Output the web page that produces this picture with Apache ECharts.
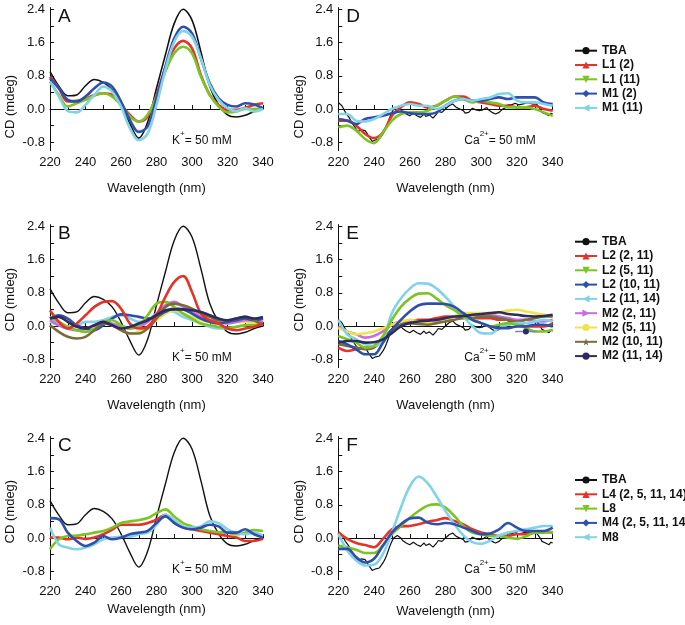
<!DOCTYPE html>
<html>
<head>
<meta charset="utf-8">
<script src="https://cdn.jsdelivr.net/npm/echarts@6/dist/echarts.min.js"></script>
<style>html,body{margin:0;padding:0;background:#fff}#main{width:685px;height:625px}</style>
</head>
<body>
<div id="main"></div>
<script>
// wavelengths (nm)
var wl5 = [220,225,230,235,240,245,250,255,260,265,270,275,280,285,290,295,300,305,310,315,320,325,330,335,340];
var wl1 = [220,221,222,223,224,225,226,227,228,229,230,231,232,233,234,235,236,237,238,239,240,
  241,242,243,244,245,246,247,248,249,250,251,252,253,254,255,256,257,258,259,260,
  261,262,263,264,265,266,267,268,269,270,271,272,273,274,275,276,277,278,279,280,
  281,282,283,284,285,286,287,288,289,290,291,292,293,294,295,296,297,298,299,300,
  301,302,303,304,305,306,307,308,309,310,311,312,313,314,315,316,317,318,319,320,
  321,322,323,324,325,326,327,328,329,330,331,332,333,334,335,336,337,338,339,340];

// TBA in K+ (panels A, B, C)
var tbaK = [0.90,0.55,0.32,0.34,0.56,0.71,0.64,0.46,0.10,-0.35,-0.70,-0.32,0.50,1.30,2.06,2.40,2.14,1.38,0.54,0.10,-0.14,-0.19,-0.15,-0.06,0.00];
// TBA in Ca2+ (panels D, E, F), 1 nm steps
var tbaCa = [0.16,0.12,0.08,0.0,-0.08,-0.14,-0.2,-0.28,-0.36,-0.42,-0.46,-0.54,-0.58,-0.5,-0.46,-0.52,-0.58,-0.66,-0.72,-0.78,-0.8,
  -0.74,-0.78,-0.72,-0.68,-0.6,-0.52,-0.42,-0.3,-0.18,-0.08,0.0,0.04,0.06,0.08,0.0,-0.06,-0.1,-0.12,-0.08,-0.16,
  -0.12,-0.1,-0.14,-0.16,-0.12,-0.2,-0.16,-0.12,-0.18,-0.2,-0.14,-0.16,-0.22,-0.22,-0.12,-0.06,-0.1,-0.08,-0.04,0.0,
  0.04,0.08,0.06,0.12,0.08,0.04,0.02,0.0,-0.04,-0.04,-0.1,-0.12,-0.08,-0.04,0.02,0.04,-0.02,0.0,-0.04,-0.08,
  -0.02,0.0,0.04,-0.02,-0.06,-0.08,-0.1,-0.12,-0.1,-0.08,-0.04,0.0,0.02,0.04,0.1,0.12,0.1,0.12,0.14,0.16,
  0.1,0.08,0.12,0.1,0.14,0.16,0.14,0.16,0.12,0.14,0.12,0.08,0.0,-0.08,-0.1,-0.12,-0.14,-0.16,-0.1,-0.12];

// A (K+)
var aL1_2  = [0.78,0.50,0.18,0.20,0.24,0.34,0.38,0.34,0.10,-0.14,-0.30,-0.18,0.34,0.98,1.46,1.64,1.46,0.82,0.34,0.10,-0.02,-0.02,0.03,0.10,0.14];
var aL1_11 = [0.66,0.34,0.06,0.14,0.22,0.32,0.38,0.30,0.10,-0.18,-0.30,-0.14,0.30,0.90,1.34,1.50,1.34,0.78,0.34,0.06,-0.08,-0.06,0.00,0.00,0.02];
var aM1_2  = [0.74,0.50,0.22,0.18,0.30,0.50,0.64,0.54,0.18,-0.26,-0.55,-0.42,0.26,1.02,1.70,1.98,1.82,1.22,0.62,0.26,0.10,0.06,0.14,0.11,0.02];
var aM1_11 = [0.66,0.30,-0.05,-0.08,0.10,0.34,0.54,0.42,0.06,-0.46,-0.75,-0.59,0.10,0.94,1.62,1.88,1.74,1.22,0.58,0.22,0.02,-0.05,0.02,-0.06,0.00];

// B (K+)
var bL2_2_11  = [0.38,0.10,-0.06,0.06,0.26,0.46,0.58,0.60,0.42,0.06,-0.06,-0.02,0.26,0.70,1.06,1.20,0.82,0.30,0.14,0.06,-0.06,-0.10,-0.06,-0.02,0.06];
var bL2_5_11  = [0.22,0.10,-0.02,-0.10,-0.14,-0.06,0.10,0.14,0.02,-0.06,0.02,0.26,0.54,0.58,0.46,0.30,0.18,0.06,0.02,-0.02,-0.05,-0.02,0.02,0.02,0.06];
var bL2_10_11 = [0.18,0.26,0.18,0.02,-0.06,-0.10,0.02,0.18,0.28,0.26,0.22,0.18,0.22,0.34,0.42,0.40,0.30,0.18,0.10,0.06,0.10,0.14,0.18,0.14,0.18];
var bL2_11_14 = [0.10,0.02,-0.02,0.02,0.10,0.10,0.14,0.22,0.26,0.18,0.10,0.14,0.30,0.38,0.34,0.22,0.14,0.06,-0.02,-0.06,-0.05,-0.02,0.02,0.06,0.06];
var bM2_2_11  = [0.14,0.02,-0.06,-0.10,-0.06,0.02,0.10,0.06,-0.02,-0.06,-0.02,0.10,0.30,0.50,0.58,0.46,0.34,0.22,0.14,0.10,0.06,0.10,0.14,0.14,0.10];
var bM2_5_11  = [0.18,0.10,-0.02,-0.10,-0.14,-0.10,0.06,0.02,-0.10,-0.18,-0.14,-0.02,0.14,0.30,0.38,0.30,0.22,0.14,0.10,0.06,0.06,0.10,0.10,0.06,0.10];
var bM2_10_11 = [0.02,-0.14,-0.26,-0.30,-0.26,-0.10,0.06,0.02,-0.10,-0.18,-0.18,-0.06,0.18,0.46,0.54,0.50,0.42,0.30,0.22,0.14,0.14,0.18,0.22,0.14,0.02];
var bM2_11_14 = [0.18,0.22,0.10,-0.02,-0.06,0.02,0.10,0.02,-0.06,-0.02,0.06,0.14,0.26,0.38,0.40,0.40,0.38,0.34,0.26,0.18,0.14,0.18,0.22,0.18,0.22];

// C (K+)
var cL4 = [0.01,0.01,-0.03,0.01,-0.02,0.01,0.09,0.20,0.32,0.32,0.32,0.36,0.44,0.56,0.40,0.25,0.21,0.17,0.13,0.09,0.05,0.01,-0.07,-0.07,-0.02];
var cL8 = [-0.27,-0.03,0.05,0.06,0.09,0.13,0.17,0.25,0.36,0.40,0.43,0.48,0.60,0.69,0.52,0.36,0.28,0.21,0.17,0.14,0.13,0.09,0.13,0.19,0.17];
var cM4 = [0.48,0.45,0.13,-0.07,-0.19,-0.11,0.05,-0.03,0.01,0.09,0.13,0.17,0.36,0.52,0.36,0.25,0.21,0.25,0.32,0.28,0.13,0.13,0.21,0.09,0.01];
var cM8 = [0.25,-0.15,-0.23,-0.27,-0.23,-0.15,-0.03,0.01,0.03,0.03,0.09,0.13,0.32,0.56,0.44,0.28,0.25,0.28,0.40,0.36,0.21,0.13,0.09,0.13,0.05];

// D (Ca2+)
var dL1_2  = [-0.28,-0.28,-0.40,-0.60,-0.70,-0.56,-0.16,0.04,0.16,0.12,0.04,0.08,0.20,0.30,0.30,0.20,0.16,0.12,0.08,0.08,0.04,0.04,0.08,0.00,-0.04];
var dL1_11 = [-0.44,-0.40,-0.52,-0.72,-0.82,-0.56,-0.28,-0.12,-0.08,-0.08,-0.04,0.08,0.20,0.30,0.24,0.16,0.20,0.16,0.12,0.04,0.04,0.04,0.00,-0.08,-0.16];
var dM1_2  = [-0.24,-0.28,-0.36,-0.24,-0.20,-0.16,-0.10,-0.06,-0.10,-0.12,-0.12,-0.08,0.08,0.20,0.24,0.20,0.20,0.24,0.28,0.24,0.28,0.28,0.28,0.16,0.12];
var dM1_11 = [-0.12,-0.12,-0.28,-0.30,-0.24,-0.12,0.00,0.08,0.12,0.08,0.08,0.00,0.08,0.20,0.24,0.20,0.24,0.28,0.36,0.38,0.20,0.16,0.16,0.12,0.08];

// E (Ca2+)
var eL2_2_11  = [-0.52,-0.60,-0.56,-0.52,-0.48,-0.32,-0.09,0.03,0.11,0.15,0.15,0.19,0.23,0.23,0.23,0.19,0.19,0.19,0.15,0.15,0.07,-0.01,-0.01,-0.01,0.07];
var eL2_5_11  = [-0.24,-0.32,-0.40,-0.52,-0.48,-0.24,0.15,0.46,0.66,0.78,0.79,0.66,0.50,0.38,0.23,0.15,0.07,-0.01,0.03,0.07,0.03,-0.05,-0.13,-0.13,-0.09];
var eL2_10_11 = [-0.36,-0.44,-0.56,-0.68,-0.68,-0.40,-0.09,0.15,0.35,0.50,0.54,0.54,0.53,0.46,0.31,0.15,0.07,-0.01,-0.05,-0.05,-0.01,-0.01,0.03,0.03,-0.01];
var eL2_11_14 = [0.15,-0.20,-0.32,-0.44,-0.48,-0.32,0.31,0.66,0.90,1.03,1.02,0.90,0.70,0.46,0.23,0.00,-0.17,-0.18,-0.05,0.03,0.07,0.07,0.11,0.15,0.11];
var eM2_2_11  = [-0.01,-0.13,-0.20,-0.28,-0.24,-0.13,0.03,0.11,0.11,0.07,0.07,0.11,0.15,0.23,0.27,0.27,0.27,0.27,0.23,0.19,0.15,0.15,0.11,0.11,0.15];
var eM2_5_11  = [-0.05,-0.13,-0.20,-0.17,-0.13,-0.05,0.03,0.11,0.15,0.11,0.07,0.07,0.15,0.23,0.31,0.31,0.31,0.31,0.33,0.37,0.39,0.35,0.31,0.27,0.23];
var eM2_10_11 = [-0.44,-0.48,-0.52,-0.56,-0.52,-0.32,-0.09,0.03,0.07,0.05,0.03,0.07,0.11,0.15,0.19,0.19,0.23,0.23,0.19,0.15,0.11,0.15,0.19,0.23,0.23];
var eM2_11_14 = [-0.40,-0.36,-0.36,-0.40,-0.39,-0.32,-0.17,-0.01,0.07,0.11,0.13,0.15,0.19,0.23,0.24,0.27,0.29,0.31,0.33,0.29,0.27,0.24,0.23,0.24,0.27];
var eMarkX = [319,325,331];
var eMarkY = [-0.13,-0.13,-0.13];

// F (Ca2+)
var fL4 = [0.13,-0.02,-0.12,-0.17,-0.22,-0.02,0.21,0.28,0.29,0.33,0.39,0.43,0.48,0.41,0.33,0.21,0.13,0.09,0.05,0.05,0.09,0.09,0.13,0.15,0.13];
var fL8 = [-0.18,-0.22,-0.28,-0.36,-0.36,-0.18,0.09,0.29,0.49,0.65,0.78,0.81,0.73,0.53,0.29,0.13,0.09,0.05,0.05,0.01,-0.02,0.04,0.13,0.13,0.15];
var fM4 = [-0.26,-0.26,-0.46,-0.59,-0.50,-0.18,0.13,0.33,0.47,0.49,0.37,0.33,0.36,0.33,0.25,0.17,0.09,0.11,0.21,0.36,0.25,0.17,0.17,0.17,0.25];
var fM8 = [0.10,-0.30,-0.54,-0.66,-0.64,-0.38,0.13,0.73,1.24,1.48,1.32,1.00,0.65,0.33,0.06,-0.10,-0.14,-0.06,0.06,0.13,0.17,0.21,0.25,0.29,0.29];

// ticks
var xTicks = [220,230,240,250,260,270,280,290,300,310,320,330,340];
var xLabels = [220,240,260,280,300,320,340];
var yTicks = [-0.8,-0.4,0,0.4,0.8,1.2,1.6,2.0,2.4];
var yLabels = [-0.8,0,0.8,1.6,2.4];

var FONT = 'Liberation Sans, Arial, sans-serif';
var INK = '#111111';
var C = {
  black: '#111111', red: '#e5332a', green: '#7cc423', blue: '#2f4fae', cyan: '#82d3e6',
  magenta: '#c46ee0', yellow: '#f0e44a', olive: '#7a6b3e', navy: '#2c2c5e'
};
var STAR = 'path://M0,-10L2.4,-3.1L9.5,-3.1L3.8,1.2L5.9,8.1L0,4L-5.9,8.1L-3.8,1.2L-9.5,-3.1L-2.4,-3.1Z';

var panels = [
  {left: 50, top: 7.6, width: 213, letter: 'A', ion: 'K', nameGap: 31},
  {left: 50, top: 224.6, width: 213, letter: 'B', ion: 'K', nameGap: 31},
  {left: 50, top: 436.6, width: 213, letter: 'C', ion: 'K', nameGap: 23},
  {left: 338.3, top: 7.6, width: 214.4, letter: 'D', ion: 'Ca', nameGap: 31},
  {left: 338.3, top: 224.6, width: 214.4, letter: 'E', ion: 'Ca', nameGap: 31},
  {left: 338.3, top: 436.6, width: 214.4, letter: 'F', ion: 'Ca', nameGap: 25}
];
var GH = 143;

function xy(xs, ys) {
  return xs.map(function (x, i) { return [x, ys[i]]; });
}

var series = [];
function add(p, name, xs, ys, color, symbol, rot, width) {
  series.push({
    name: name,
    type: 'line',
    xAxisIndex: p,
    yAxisIndex: p,
    data: xy(xs, ys),
    showSymbol: false,
    symbol: symbol,
    symbolRotate: rot || 0,
    smooth: xs === wl5 ? 0.35 : false,
    lineStyle: {color: color, width: width || 2.6},
    itemStyle: {color: color},
    emphasis: {disabled: true},
    animation: false
  });
}

// A
add(0, 'TBA', wl5, tbaK, C.black, 'circle', 0, 1.6);
add(0, 'L1 (2)', wl5, aL1_2, C.red, 'triangle', 0);
add(0, 'L1 (11)', wl5, aL1_11, C.green, 'triangle', 180);
add(0, 'M1 (2)', wl5, aM1_2, C.blue, 'diamond', 0);
add(0, 'M1 (11)', wl5, aM1_11, C.cyan, 'triangle', 90);
// B
add(1, 'TBA', wl5, tbaK, C.black, 'circle', 0, 1.4);
add(1, 'L2 (11, 14)', wl5, bL2_11_14, C.cyan, 'triangle', 90);
add(1, 'M2 (5, 11)', wl5, bM2_5_11, C.yellow, 'circle', 0);
add(1, 'M2 (2, 11)', wl5, bM2_2_11, C.magenta, 'triangle', -90);
add(1, 'L2 (10, 11)', wl5, bL2_10_11, C.blue, 'diamond', 0);
add(1, 'L2 (5, 11)', wl5, bL2_5_11, C.green, 'triangle', 180);
add(1, 'M2 (10, 11)', wl5, bM2_10_11, C.olive, STAR, 0);
add(1, 'L2 (2, 11)', wl5, bL2_2_11, C.red, 'triangle', 0);
add(1, 'M2 (11, 14)', wl5, bM2_11_14, C.navy, 'circle', 0);
// C
add(2, 'TBA', wl5, tbaK, C.black, 'circle', 0, 1.4);
add(2, 'L4 (2, 5, 11, 14)', wl5, cL4, C.red, 'triangle', 0);
add(2, 'L8', wl5, cL8, C.green, 'triangle', 180);
add(2, 'M8', wl5, cM8, C.cyan, 'triangle', 90);
add(2, 'M4 (2, 5, 11, 14)', wl5, cM4, C.blue, 'diamond', 0);
// D
add(3, 'TBA', wl1, tbaCa, C.black, 'circle', 0, 1.2);
add(3, 'L1 (2)', wl5, dL1_2, C.red, 'triangle', 0);
add(3, 'L1 (11)', wl5, dL1_11, C.green, 'triangle', 180);
add(3, 'M1 (2)', wl5, dM1_2, C.blue, 'diamond', 0);
add(3, 'M1 (11)', wl5, dM1_11, C.cyan, 'triangle', 90);
// E
add(4, 'TBA', wl1, tbaCa, C.black, 'circle', 0, 1.2);
add(4, 'L2 (2, 11)', wl5, eL2_2_11, C.red, 'triangle', 0);
add(4, 'M2 (2, 11)', wl5, eM2_2_11, C.magenta, 'triangle', -90);
add(4, 'M2 (5, 11)', wl5, eM2_5_11, C.yellow, 'circle', 0);
add(4, 'M2 (10, 11)', wl5, eM2_10_11, C.olive, STAR, 0);
add(4, 'L2 (11, 14)', wl5, eL2_11_14, C.cyan, 'triangle', 90);
add(4, 'L2 (5, 11)', wl5, eL2_5_11, C.green, 'triangle', 180);
add(4, 'L2 (10, 11)', wl5, eL2_10_11, C.blue, 'diamond', 0);
add(4, 'M2 (11, 14)', wl5, eM2_11_14, C.navy, 'circle', 0);
series.push({
  name: 'stray', type: 'line', xAxisIndex: 4, yAxisIndex: 4,
  data: [
    {value: [eMarkX[0], eMarkY[0]], symbol: 'none'},
    {value: [eMarkX[1], eMarkY[1]], symbol: 'circle', symbolSize: 6},
    {value: [eMarkX[2], eMarkY[2]], symbol: 'none'}
  ],
  showSymbol: true, lineStyle: {color: '#7c86a8', width: 1.5}, itemStyle: {color: C.navy},
  emphasis: {disabled: true}, animation: false
});
// F
add(5, 'TBA', wl1, tbaCa, C.black, 'circle', 0, 1.2);
add(5, 'L4 (2, 5, 11, 14)', wl5, fL4, C.red, 'triangle', 0);
add(5, 'L8', wl5, fL8, C.green, 'triangle', 180);
add(5, 'M8', wl5, fM8, C.cyan, 'triangle', 90);
add(5, 'M4 (2, 5, 11, 14)', wl5, fM4, C.blue, 'diamond', 0);

var grids = [], xAxes = [], yAxes = [], graphics = [];
panels.forEach(function (pn, p) {
  grids.push({left: pn.left, top: pn.top, width: pn.width, height: GH});
  xAxes.push({
    gridIndex: p, type: 'value', min: 220, max: 340,
    name: 'Wavelength (nm)', nameLocation: 'middle', nameGap: pn.nameGap,
    nameTextStyle: {fontSize: 13, color: INK, fontFamily: FONT},
    axisLine: {lineStyle: {color: INK, width: 1}},
    axisTick: {inside: true, length: 4, customValues: xTicks, lineStyle: {color: INK}},
    axisLabel: {customValues: xLabels, fontSize: 13, color: INK, margin: 5, fontFamily: FONT},
    splitLine: {show: false}
  });
  yAxes.push({
    gridIndex: p, type: 'value', min: -1.0, max: 2.44,
    axisLine: {show: true, lineStyle: {color: INK, width: 1}},
    axisTick: {show: true, inside: true, length: 4, customValues: yTicks, lineStyle: {color: INK}},
    axisLabel: {customValues: yLabels, fontSize: 13, color: INK, margin: 5, fontFamily: FONT,
      formatter: function (v) { return Number(v).toFixed(1); }},
    splitLine: {show: false}
  });
  graphics.push({
    type: 'text', x: pn.left + 8, y: pn.top + 9,
    style: {text: pn.letter, fontSize: 19, fontFamily: FONT, fill: INK, textVerticalAlign: 'middle'}
  });
  var isK = pn.ion === 'K';
  graphics.push({
    type: 'text', x: isK ? pn.left + 122 : pn.left + 126, y: pn.top + 131,
    style: {
      text: isK ? '{a|K}{s|+}{a|= 50 mM}' : '{a|Ca}{s|2+}{a|= 50 mM}',
      textVerticalAlign: 'middle',
      rich: {
        a: {fontSize: 12, fontFamily: FONT, fill: INK, color: INK, lineHeight: 17, verticalAlign: 'bottom'},
        s: {fontSize: 8, fontFamily: FONT, fill: INK, color: INK, lineHeight: 9, verticalAlign: 'top'}
      }
    }
  });
  graphics.push({
    type: 'text', x: isK ? pn.left - 40 : pn.left - 39, y: pn.top + (p % 3 === 0 ? 99 : 75),
    rotation: Math.PI / 2,
    style: {text: 'CD (mdeg)', fontSize: 13, fontFamily: FONT, fill: INK, textAlign: 'center', textVerticalAlign: 'middle'}
  });
});

function legendAt(top, names) {
  return {
    orient: 'vertical', left: 574, top: top, padding: 0,
    itemWidth: 22, itemHeight: 9, itemGap: 0.3,
    data: names, selectedMode: false,
    textStyle: {fontSize: 12, fontWeight: 'bold', color: INK, fontFamily: FONT, lineHeight: 14}
  };
}

var chart = echarts.init(document.getElementById('main'));
chart.setOption({
  backgroundColor: '#ffffff',
  animation: false,
  grid: grids,
  xAxis: xAxes,
  yAxis: yAxes,
  legend: [
    legendAt(43.7, ['TBA', 'L1 (2)', 'L1 (11)', 'M1 (2)', 'M1 (11)']),
    legendAt(234.7, ['TBA', 'L2 (2, 11)', 'L2 (5, 11)', 'L2 (10, 11)', 'L2 (11, 14)', 'M2 (2, 11)', 'M2 (5, 11)', 'M2 (10, 11)', 'M2 (11, 14)']),
    legendAt(473, ['TBA', 'L4 (2, 5, 11, 14)', 'L8', 'M4 (2, 5, 11, 14)', 'M8'])
  ],
  graphic: graphics,
  series: series
});
</script>
</body>
</html>
